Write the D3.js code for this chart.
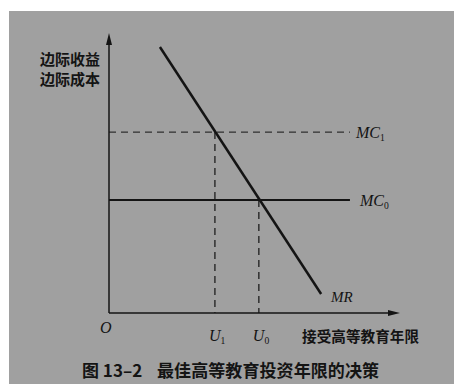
<!DOCTYPE html>
<html><head><meta charset="utf-8">
<script src="https://cdn.jsdelivr.net/npm/d3@7/dist/d3.min.js"></script>
<style>body{margin:0;background:#fff}svg{display:block}</style>
</head><body>
<script>
// conceptual data (units)
const mrLine = [{x:1.75,y:9.5},{x:7.29,y:0.68}];
const mcLevels = [{name:"MC",sub:"1",y:6.46,dashed:true},{name:"MC",sub:"0",y:4.04,dashed:false}];
const uPoints = [{name:"U",sub:"1",x:3.64,y:6.46},{name:"U",sub:"0",x:5.15,y:4.04}];
const mcEndX = 8.28;
const yTitle = ["边际收益","边际成本"];
const xTitle = "接受高等教育年限";
const caption = ["图 13–2","最佳高等教育投资年限的决策"];

const W=454,H=385;
const svg=d3.select("body").append("svg").attr("width",W).attr("height",H);
svg.append("rect").attr("x",9).attr("y",11).attr("width",W-9).attr("height",H-12).attr("fill","#a0a0a0");

const x=d3.scaleLinear().domain([0,10]).range([109,400]);
const y=d3.scaleLinear().domain([0,10]).range([313,33]);
const ink="#141414";

// axes
svg.append("line").attr("x1",x(0)).attr("y1",y(0)).attr("x2",x(0)).attr("y2",y(10)+4).attr("stroke",ink).attr("stroke-width",1.5);
svg.append("path").attr("d",`M${x(0)},${y(10)} L${x(0)-3},${y(10)+12} L${x(0)+3},${y(10)+12}Z`).attr("fill",ink);
svg.append("line").attr("x1",x(0)).attr("y1",y(0)).attr("x2",x(10)-4).attr("y2",y(0)).attr("stroke",ink).attr("stroke-width",1.5);
svg.append("path").attr("d",`M${x(10)},${y(0)} L${x(10)-12},${y(0)-3} L${x(10)-12},${y(0)+3}Z`).attr("fill",ink);

// MC lines
svg.selectAll(".mc").data(mcLevels).enter().append("line")
  .attr("x1",x(0)).attr("x2",x(mcEndX)).attr("y1",d=>y(d.y)).attr("y2",d=>y(d.y))
  .attr("stroke",ink).attr("stroke-width",d=>d.dashed?1:2)
  .attr("stroke-dasharray",d=>d.dashed?"7,5":null);

// U verticals
svg.selectAll(".u").data(uPoints).enter().append("line")
  .attr("x1",d=>x(d.x)).attr("x2",d=>x(d.x)).attr("y1",d=>y(d.y)).attr("y2",y(0))
  .attr("stroke",ink).attr("stroke-width",1.2).attr("stroke-dasharray","7,5");

// MR
svg.append("path").attr("d",d3.line().x(d=>x(d.x)).y(d=>y(d.y))(mrLine))
  .attr("stroke",ink).attr("stroke-width",2.5).attr("fill","none");

const serif="'Liberation Serif','DejaVu Serif',serif";
const cjk="'Noto Sans CJK SC',sans-serif";
function subLabel(px,py,name,sub,size){
  const t=svg.append("text").attr("x",px).attr("y",py).attr("font-family",serif).attr("font-style","italic")
    .attr("font-size",size).attr("fill",ink);
  t.append("tspan").text(name);
  if(sub) t.append("tspan").attr("font-size",size*0.6).attr("font-style","normal").attr("dy",3).text(sub);
}
mcLevels.forEach((d,i)=>subLabel(i===0?356:360,y(d.y)+6,d.name,d.sub,16));
subLabel(331,y(mrLine[1].y)+8,"MR",null,15);
uPoints.forEach(d=>subLabel(x(d.x)-6,341,d.name,d.sub,16));
subLabel(100,333,"O",null,16);

yTitle.forEach((t,i)=>svg.append("text").attr("x",40).attr("y",65+i*20).text(t)
  .attr("font-family",cjk).attr("font-weight",700).attr("font-size",15).attr("fill",ink));
svg.append("text").attr("x",302).attr("y",342).text(xTitle).attr("font-family",cjk).attr("font-weight",700)
  .attr("font-size",14.6).attr("fill",ink).attr("textLength",117);
svg.append("text").attr("x",82).attr("y",377).text(caption[0]).attr("font-family",cjk).attr("font-weight",700)
  .attr("font-size",17).attr("fill",ink);
svg.append("text").attr("x",157).attr("y",377).text(caption[1]).attr("font-family",cjk).attr("font-weight",700)
  .attr("font-size",17).attr("fill",ink).attr("textLength",222);
</script>
</body></html>
